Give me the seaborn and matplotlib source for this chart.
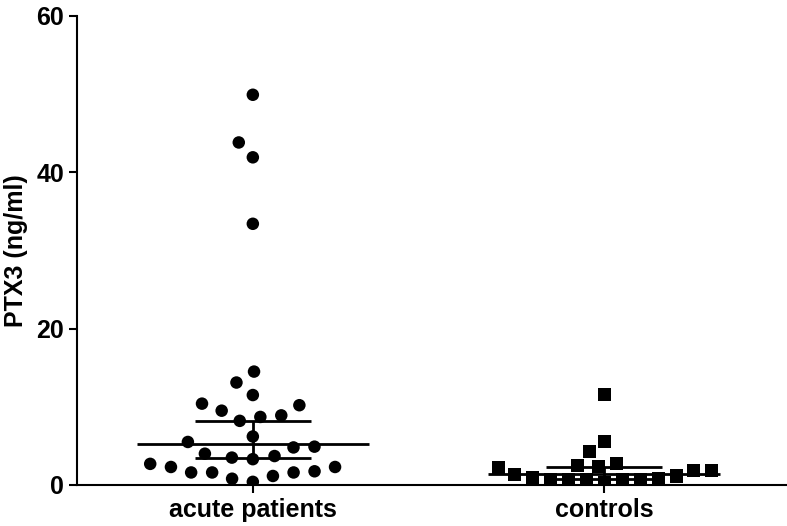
import numpy as np
import pandas as pd
import seaborn as sns
import matplotlib.pyplot as plt

# values (PTX3, ng/ml)
groups = ["acute patients", "controls"]
acute = [49.9, 43.8, 41.9, 33.4, 14.5, 13.1, 11.5, 10.4, 10.2, 9.5, 8.9, 8.7,
         8.2, 6.2, 5.5, 4.9, 4.8, 4.0, 3.7, 3.5, 3.3, 2.7, 2.3, 2.3, 1.75,
         1.6, 1.6, 1.6, 1.15, 0.8, 0.4]
controls = [11.6, 5.5, 4.3, 2.8, 2.55, 2.4, 2.25, 1.9, 1.85, 1.3, 1.15, 0.95,
            0.85, 0.7, 0.65, 0.65, 0.65, 0.65, 0.3]
# median line and the interval drawn around it
center = [5.3, 1.45]
upper = [8.2, 2.25]
lower = [3.5, 0.75]

df = pd.DataFrame({
    "group": [groups[0]] * len(acute) + [groups[1]] * len(controls),
    "value": acute + controls,
})

sns.set_style("ticks")
plt.rcParams["font.family"] = ["Liberation Sans", "DejaVu Sans"]
plt.rcParams["font.weight"] = "bold"
plt.rcParams["text.color"] = "black"
plt.rcParams["axes.labelcolor"] = "black"
plt.rcParams["xtick.color"] = "black"
plt.rcParams["ytick.color"] = "black"

fig = plt.figure(figsize=(7.87, 5.26), dpi=100)
ax = fig.add_axes([0.098, 0.078, 0.902, 0.892])

# swarm spacing is set through an invisible edge width
sns.swarmplot(data=df[df.group == groups[0]], x="group", y="value", order=groups,
              marker="o", size=9, color="black", linewidth=5.4, edgecolor="none",
              ax=ax, zorder=3)
sns.swarmplot(data=df[df.group == groups[1]], x="group", y="value", order=groups,
              marker="s", size=9.4, color="black", linewidth=3.0, edgecolor="none",
              ax=ax, zorder=3)

xs = np.arange(len(groups))
ax.hlines(center, xs - 0.33, xs + 0.33, color="black", linewidth=2.0, zorder=2)
c = np.array(center)
ax.errorbar(xs, c, yerr=[c - np.array(lower), np.array(upper) - c], fmt="none",
            ecolor="black", elinewidth=2.0, capsize=42, capthick=2.0, zorder=2)

ax.set_xlim(-0.5, 1.52)
ax.set_ylim(0, 60)
ax.set_yticks([0, 20, 40, 60])
ax.set_xlabel("")
ax.set_ylabel("PTX3 (ng/ml)", fontsize=18, fontweight="bold", labelpad=6)
ax.tick_params(axis="both", labelsize=18, width=1.5, length=6, color="black")
for lab in ax.get_xticklabels() + ax.get_yticklabels():
    lab.set_fontweight("bold")
sns.despine(ax=ax)
for s in ["left", "bottom"]:
    ax.spines[s].set_linewidth(1.5)
    ax.spines[s].set_color("black")
    ax.spines[s].set_clip_on(False)

fig.savefig("out.png", dpi=100)
